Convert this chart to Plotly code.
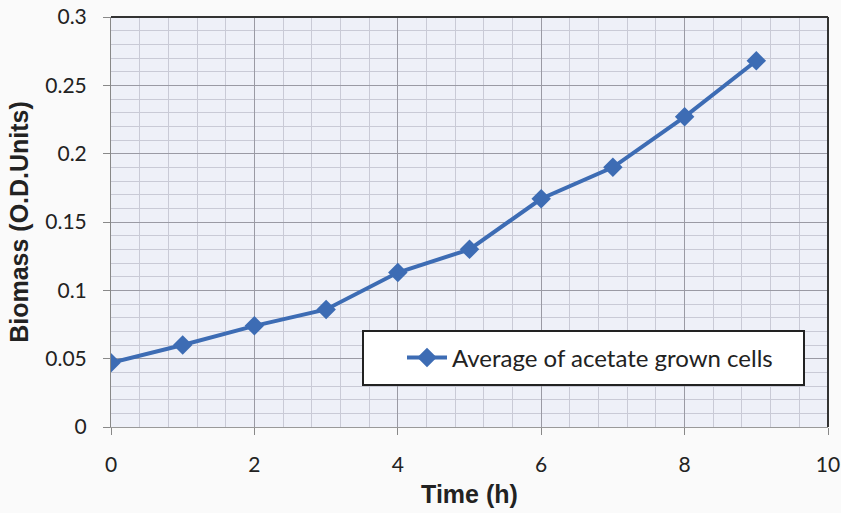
import plotly.graph_objects as go

time_h = [0, 1, 2, 3, 4, 5, 6, 7, 8, 9]
biomass = [0.047, 0.060, 0.074, 0.086, 0.113, 0.130, 0.167, 0.190, 0.227, 0.268]
series_name = "Average of acetate grown cells"

line_color = "#3d6cb4"

fig = go.Figure()
fig.add_trace(go.Scatter(
    x=time_h, y=biomass, mode="lines+markers", name=series_name,
    line=dict(color=line_color, width=4),
    marker=dict(symbol="diamond", size=15, color=line_color),
))

fig.update_layout(
    width=841, height=513,
    margin=dict(l=111, r=13, t=17, b=86, autoexpand=False),
    paper_bgcolor="#fafafa",
    plot_bgcolor="#eef0f8",
    font=dict(family="Lato, Open Sans, sans-serif", size=21, color="#222"),
    showlegend=True,
    legend=dict(
        x=(402 - 111) / 717, y=(427 - 358) / 410, xanchor="left", yanchor="middle",
        bgcolor="rgba(0,0,0,0)", borderwidth=0,
        font=dict(size=24, family="Lato, Open Sans, sans-serif", color="#222"),
        itemwidth=40,
    ),
)

fig.update_xaxes(
    range=[0, 10], tick0=0, dtick=2,
    showgrid=True, gridcolor="#9a9aa4", gridwidth=1,
    minor=dict(dtick=0.4, showgrid=True, gridcolor="#c9cad6", gridwidth=1),
    ticks="outside", ticklen=7, tickcolor="#888",
    ticklabelstandoff=12,
    showline=True, linecolor="#999", mirror=False,
    zeroline=False, automargin=False,
    title=dict(text="<b>Time (h)</b>", font=dict(family="Liberation Sans, Arial", size=25, color="#222"), standoff=10),
    tickfont=dict(size=21),
)
fig.update_yaxes(
    range=[0, 0.3], tick0=0, dtick=0.05,
    showgrid=True, gridcolor="#9a9aa4", gridwidth=1,
    minor=dict(dtick=0.01, showgrid=True, gridcolor="#c9cad6", gridwidth=1),
    ticks="outside", ticklen=7, tickcolor="#888",
    ticklabelstandoff=12,
    showline=True, linecolor="#888",
    zeroline=False, automargin=False,
    title=dict(text="<b>Biomass (O.D.Units)</b>", font=dict(family="Liberation Sans, Arial", size=25, color="#222"), standoff=9),
    tickfont=dict(size=21),
)

# top and right borders of plot area
fig.add_shape(type="line", xref="paper", yref="paper", x0=0, x1=1, y0=1, y1=1,
              line=dict(color="#333", width=2))
fig.add_shape(type="line", xref="paper", yref="paper", x0=1, x1=1, y0=0, y1=1,
              line=dict(color="#333", width=2))
# legend box
fig.add_shape(type="rect", xref="paper", yref="paper",
              x0=(363 - 111) / 717, x1=(804 - 111) / 717,
              y0=(427 - 385) / 410, y1=(427 - 331) / 410,
              line=dict(color="#222", width=2), fillcolor="white", layer="above")

fig.write_html("out.html")
